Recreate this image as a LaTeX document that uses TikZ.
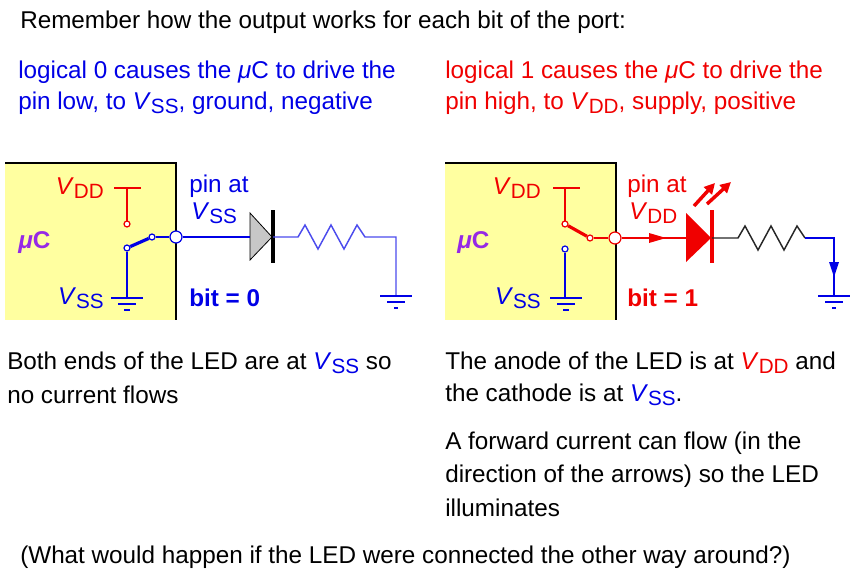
\documentclass[tikz,border=0pt]{standalone}
\usepackage{fontspec}
\setmainfont{Liberation Sans}
\usetikzlibrary{arrows.meta}
\definecolor{bl}{RGB}{0,0,230}
\definecolor{rd}{RGB}{240,0,0}
\definecolor{yel}{RGB}{255,255,160}
\definecolor{pur}{RGB}{150,40,230}
\newcommand\Vs[1]{\textit{V}\raisebox{-0.3ex}{\fontsize{15.5}{17}\selectfont #1}}
\begin{document}
\begin{tikzpicture}[x=0.75pt,y=-0.75pt,
  txt/.style={anchor=west,inner sep=0,font=\fontsize{18.2}{21}\selectfont},
  sw/.style={circle,draw,fill=white,line width=0.9pt,inner sep=0,minimum size=6pt*0.75},
  pin/.style={circle,draw,fill=white,line width=0.9pt,inner sep=0,minimum size=12pt*0.75},
  gnd/.style={line width=1pt}]
\useasboundingbox (0,0) rectangle (855,577);
\node[txt] (t0) at (20,22) {Remember how the output works for each bit of the port:};
\node[txt,text=bl] (t1) at (18,72) {logical 0 causes the \textit{μ}C to drive the};
\node[txt,text=bl] (t2) at (18,103) {pin low, to \Vs{SS}, ground, negative};
\node[txt,text=rd] (t3) at (445,72) {logical 1 causes the \textit{μ}C to drive the};
\node[txt,text=rd] (t4) at (445,103) {pin high, to \Vs{DD}, supply, positive};
\node[txt] (b1) at (7,363) {Both ends of the LED are at \textcolor{bl}{\Vs{SS}} so};
\node[txt] (b2) at (7,395) {no current flows};
\node[txt] (b3) at (445,363) {The anode of the LED is at \textcolor{rd}{\Vs{DD}} and};
\node[txt] (b4) at (445,395) {the cathode is at \textcolor{bl}{\Vs{SS}}.};
\node[txt] (b5) at (445,443) {A forward current can flow (in the};
\node[txt] (b6) at (445,476) {direction of the arrows) so the LED};
\node[txt] (b7) at (445,508) {illuminates};
\node[txt] (b8) at (20,557) {(What would happen if the LED were connected the other way around?)};

% ---------- left ----------
\fill[yel] (5,163) rectangle (176,320);
\draw[line width=1pt] (5,163) -- (176,163) -- (176,320);
\node[txt,text=pur,font=\fontsize{18.2}{21}\selectfont\bfseries] (muL) at (18,243) {\textit{μ}C};
\node[txt,text=rd,anchor=east] (vddL) at (104,188) {\Vs{DD}};
\node[txt,text=bl,anchor=east] (vssL) at (104,298) {\Vs{SS}};
\draw[rd,line width=1pt] (114,188) -- (141,188) (127,188) -- (127,222);
\node[sw,draw=rd] (aL) at (127,224) {};
\node[sw,draw=bl] (cL) at (127,248) {};
\node[sw,draw=bl] (dL) at (152,237) {};
\draw[bl,line width=1pt] (cL) -- (127,298);
\draw[bl,line width=2.4pt] (cL) -- (dL);
\draw[bl,gnd] (111,298) -- (143,298) (118,304) -- (136,304) (124,310) -- (130,310);
\node[pin,draw=bl] (pL) at (176,237) {};
\draw[bl,line width=1pt] (dL) -- (pL);
\node[txt,text=bl] (paL) at (189,186) {pin at};
\node[txt,text=bl] (psL) at (191,213) {\Vs{SS}};
\node[txt,text=bl,font=\fontsize{18.2}{21}\selectfont\bfseries] (bitL) at (189,298) {bit = 0};
\draw[black,fill=black!22,line width=0.6pt] (250,213) -- (272,237) -- (250,260) -- cycle;
\draw[line width=3.5pt] (273,210) -- (273,263);
\draw[bl,line width=1pt] (pL) -- (250,237);
\draw[bl!70,line width=1.1pt] (273,237) -- (298,237) -- (305,225) -- (318,249) -- (331,225) -- (344,249) -- (357,225) -- (365,237) -- (396,237) -- (396,296);
\draw[bl,gnd] (380,296) -- (412,296) (387,302) -- (405,302) (394,308) -- (398,308);

% ---------- right ----------
\fill[yel] (445,163) rectangle (616,320);
\draw[line width=1pt] (445,163) -- (616,163) -- (616,320);
\node[txt,text=pur,font=\fontsize{18.2}{21}\selectfont\bfseries] (muR) at (457,243) {\textit{μ}C};
\node[txt,text=rd,anchor=east] (vddR) at (541,188) {\Vs{DD}};
\node[txt,text=bl,anchor=east] (vssR) at (541,298) {\Vs{SS}};
\draw[rd,line width=1pt] (553,188) -- (580,188) (565,188) -- (565,222);
\node[sw,draw=rd] (aR) at (565,224) {};
\node[sw,draw=bl] (cR) at (565,249) {};
\node[sw,draw=rd] (dR) at (590,238) {};
\draw[bl,line width=1pt] (cR) -- (565,298);
\draw[rd,line width=2.4pt] (aR) -- (dR);
\draw[bl,gnd] (550,298) -- (582,298) (557,304) -- (575,304) (563,310) -- (569,310);
\node[pin,draw=rd] (pR) at (615,238) {};
\draw[rd,line width=1pt] (dR) -- (pR);
\node[txt,text=rd] (paR) at (627,186) {pin at};
\node[txt,text=rd] (psR) at (629,213) {\Vs{DD}};
\node[txt,text=rd,font=\fontsize{18.2}{21}\selectfont\bfseries] (bitR) at (627,298) {bit = 1};
\draw[rd,line width=1pt] (pR) -- (686,238);
\fill[rd] (649,233) -- (666,238) -- (649,243) -- cycle;
\fill[rd] (686,213) -- (711,238) -- (686,262) -- cycle;
\draw[rd,line width=3.5pt] (712,210) -- (712,263);
\draw[rd,line width=2.6pt,-{Triangle[length=8pt,width=8pt]}] (694,206) -- (715,183);
\draw[rd,line width=2.6pt,-{Triangle[length=8pt,width=8pt]}] (707,204) -- (731,182);
\draw[black!85,line width=1.1pt] (712,238) -- (738,238) -- (745,226) -- (758,250) -- (771,226) -- (784,250) -- (797,226) -- (805,238);
\draw[bl,line width=1.1pt] (805,238) -- (834,238) -- (834,296);
\fill[bl] (829,262) -- (839,262) -- (834,277) -- cycle;
\draw[bl,gnd] (818,296) -- (850,296) (825,302) -- (843,302) (832,308) -- (836,308);
\end{tikzpicture}
\end{document}
